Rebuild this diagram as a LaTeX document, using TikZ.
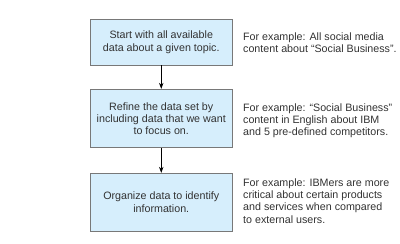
\documentclass[tikz,border=0pt]{standalone}
\usepackage{fontspec}
\setmainfont{Liberation Sans}
\usetikzlibrary{arrows.meta}
\definecolor{boxfill}{RGB}{214,238,252}
\definecolor{boxline}{RGB}{120,120,120}
\definecolor{txt}{RGB}{50,50,50}
\begin{document}
\begin{tikzpicture}[x=1pt,y=-1pt,
  stepbox/.style={draw=boxline,line width=0.9pt,fill=boxfill,minimum width=142.5pt,inner sep=0pt,align=center,text=txt,font=\fontsize{10.7}{12.2}\selectfont},
  note/.style={anchor=west,align=left,inner sep=0pt,text=txt,font=\fontsize{10.7}{12.2}\selectfont},
  flow/.style={-{Stealth[length=6pt,width=4.5pt]},line width=0.9pt,black}]
\useasboundingbox (0,0) rectangle (400,244);
\node[stepbox,minimum height=45.7pt] (b1) at (161.25,42.15) {Start with all available\\data about a given topic.};
\node[stepbox,minimum height=58.4pt] (b2) at (161.25,118.5) {Refine the data set by\\including data that we want\\to focus on.};
\node[stepbox,minimum height=57.7pt] (b3) at (161.25,202.15) {Organize data to identify\\information.};
\node[note] (n1) at (243,42.5) {For example: All social media\\content about “Social Business”.};
\node[note] (n2) at (243,121) {For example: “Social Business”\\content in English about IBM\\and 5 pre-defined competitors.};
\node[note] (n3) at (243,201) {For example: IBMers are more\\critical about certain products\\and services when compared\\to external users.};
\draw[flow] (b1) -- (b2);
\draw[flow] (b2) -- (b3);
\end{tikzpicture}
\end{document}
